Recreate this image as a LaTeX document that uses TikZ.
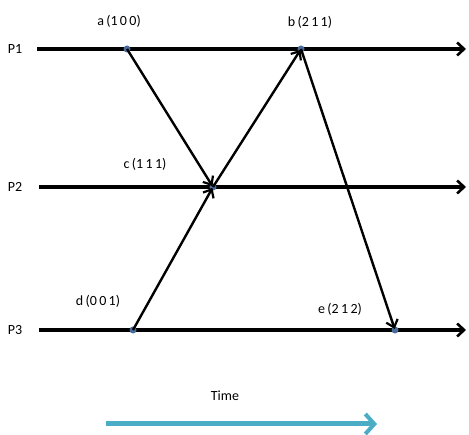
\documentclass[tikz,border=0pt]{standalone}
\usepackage{fontspec}
\setmainfont{Carlito}
\usetikzlibrary{arrows.meta}
\definecolor{dotblue}{HTML}{4A6C9B}
\definecolor{timecyan}{HTML}{4BACC6}
\begin{document}
\begin{tikzpicture}[x=1pt,y=-1pt,
  proc/.style={line width=3.4pt,-{Straight Barb[length=7pt,width=13pt,line width=2.6pt]}},
  msg/.style={line width=2.4pt,-{Straight Barb[length=7pt,width=12pt,line width=2.2pt]}},
  ev/.style={circle,fill=dotblue,inner sep=0pt,minimum size=7pt},
  lbl/.style={font=\fontsize{14}{16}\selectfont,inner sep=0pt},
  plbl/.style={font=\fontsize{14}{16}\selectfont,inner sep=0pt}]
\useasboundingbox (0,0) rectangle (469,435);
% process lines
\coordinate (s1) at (37,49);  \coordinate (t1) at (466,49);
\coordinate (s2) at (39,187); \coordinate (t2) at (466,187);
\coordinate (s3) at (39,330); \coordinate (t3) at (466,330);
\node[plbl] (p1) at (15,49) {P1};
\node[plbl] (p2) at (15,187) {P2};
\node[plbl] (p3) at (15,330) {P3};
\draw[proc] (s1) -- (t1);
\draw[proc] (s2) -- (t2);
\draw[proc] (s3) -- (t3);
% events
\node[ev] (a) at (127,49) {};
\node[ev] (b) at (301,49) {};
\node[ev] (c) at (213,187) {};
\node[ev] (d) at (133,330) {};
\node[ev] (e) at (395,330) {};
% messages
\draw[msg,shorten >=1pt] (a.center) -- (c.center);
\draw[msg,shorten >=1pt] (d.center) -- (c.center);
\draw[msg,shorten >=1pt] (c.center) -- (b.center);
\draw[msg,shorten >=1pt] (b.center) -- (e.center);
% labels
\node[lbl] (la) at (119,21) {a\,(1\,0\,0)};
\node[lbl] (lb) at (310,22) {b\,(2\,1\,1)};
\node[lbl] (lc) at (145,164) {c\,(1\,1\,1)};
\node[lbl] (ld) at (98,301) {d\,(0\,0\,1)};
\node[lbl] (le) at (340,309) {e\,(2\,1\,2)};
% time
\node[lbl] (time) at (225,396) {Time};
\coordinate (ts) at (106,424);
\coordinate (te) at (377,424);
\draw[line width=5pt,timecyan,-{Straight Barb[length=9pt,width=20pt,line width=4pt]}] (ts) -- (te);
\end{tikzpicture}
\end{document}
